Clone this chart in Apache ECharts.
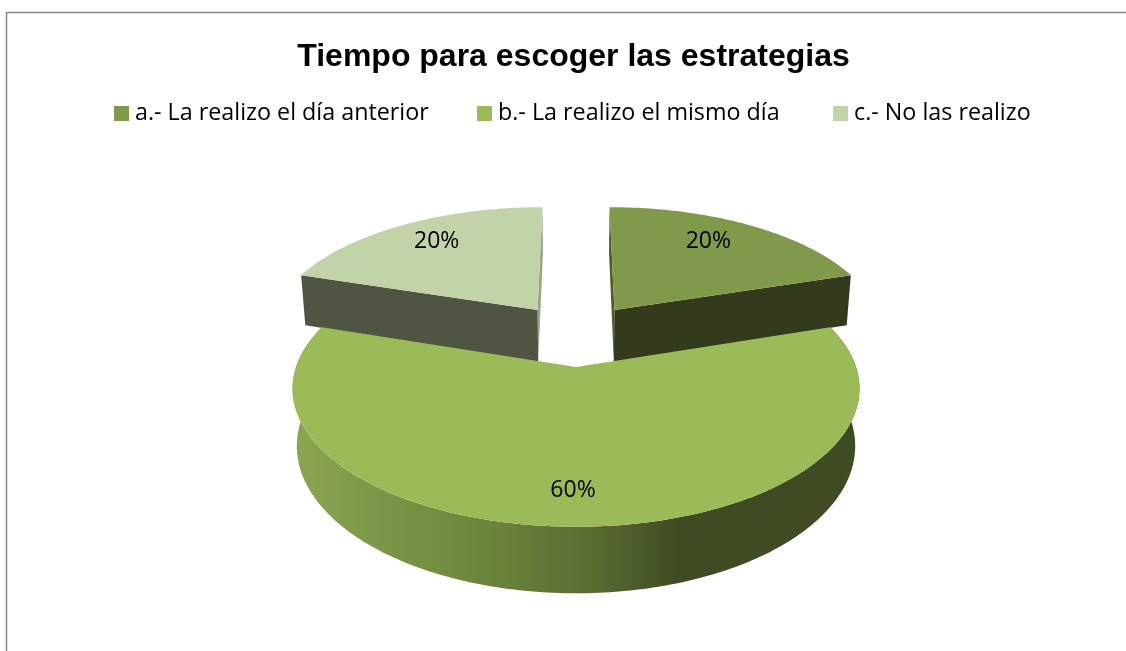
<!DOCTYPE html>
<html><head><meta charset="utf-8">
<style>html,body{margin:0;padding:0;background:#fff}#c{width:1126px;height:651px}</style>
<script src="https://cdn.jsdelivr.net/npm/echarts@6/dist/echarts.min.js"></script>
</head><body><div id="c"></div>
<script>
const titleText = 'Tiempo para escoger las estrategias';
const categories = ['a.- La realizo el día anterior', 'b.- La realizo el mismo día', 'c.- No las realizo'];
const percents = [20, 60, 20];
const topColors = ['#81994a', '#9bbb59', '#c3d3a9'];
const cutColors = ['#343b1d', '#343b1d', '#4f5443'];
const backCutColors = ['#4d5c2a', '#4d5c2a', '#98a586'];
const labelDx = [-14, -3, 7];
const labelDy = [0, 2, 0];
const legendLefts = [114, 477, 833];

const CX = 576, CY = 334.5, RX = 269.5, RY = 125, PERSP = 0.15, EXPLODE = 0.25, DEPTH = 54, DEPTH_SHRINK = 0.985, LABEL_T = 0.79;
const total = percents.reduce((a, b) => a + b, 0);
const starts = [];
percents.reduce((acc, v, i) => { starts[i] = acc; return acc + v; }, 0);

function proj(u, v, down) {
  const w = 1 - PERSP * v;
  let x = RX * u / w;
  let y = RY * v / w;
  if (down) { x *= DEPTH_SHRINK; y += DEPTH / w; }
  return [CX + x, CY + y];
}
function renderSlice(idx) {
  return function () {
    const a0 = starts[idx] / total * 2 * Math.PI;
    const a1 = (starts[idx] + percents[idx]) / total * 2 * Math.PI;
    const mid = (a0 + a1) / 2;
    const ou = EXPLODE * Math.sin(mid), ov = -EXPLODE * Math.cos(mid);
    const at = (ang, t, down) => proj(ou + t * Math.sin(ang), ov - t * Math.cos(ang), down);
    const steps = Math.ceil((a1 - a0) / (Math.PI / 180));
    const arcTop = [], arcBot = [];
    for (let i = 0; i <= steps; i++) {
      const ang = a0 + (a1 - a0) * i / steps;
      arcTop.push(at(ang, 1, false));
      arcBot.push(at(ang, 1, true));
    }
    const apex = at(0, 0, false), apexBot = at(0, 0, true);
    const children = [];
    if (percents[idx] / total > 0.5) {
      children.push({
        type: 'polygon',
        shape: { points: arcTop.concat(arcBot.slice().reverse()) },
        style: { fill: new echarts.graphic.LinearGradient(0, 0, 1, 0, [
          { offset: 0, color: '#8ba552' }, { offset: 0.12, color: '#7f9a49' },
          { offset: 0.35, color: '#6b843c' }, { offset: 0.52, color: '#5a6e32' },
          { offset: 0.68, color: '#3f4b22' }, { offset: 1, color: '#3f4b22' }
        ]) }
      });
    } else {
      const face = (ang, fill) => children.push({
        type: 'polygon',
        shape: { points: [apex, at(ang, 1, false), at(ang, 1, true), apexBot] },
        style: { fill: fill }
      });
      if (idx === 0) { face(a0, backCutColors[idx]); face(a1, cutColors[idx]); }
      else { face(a1, backCutColors[idx]); face(a0, cutColors[idx]); }
    }
    children.push({
      type: 'polygon',
      shape: { points: [apex].concat(arcTop) },
      style: { fill: topColors[idx] }
    });
    const lp = at(mid, LABEL_T, false);
    children.push({
      type: 'text',
      style: {
        x: lp[0] + labelDx[idx], y: lp[1] + labelDy[idx], text: percents[idx] + '%',
        fill: '#000', font: '23px "Open Sans"', align: 'center', verticalAlign: 'middle'
      }
    });
    return { type: 'group', children: children };
  };
}
const order = [0, 2, 1];
const chart = echarts.init(document.getElementById('c'), null, { renderer: 'canvas' });
chart.setOption({
  animation: false,
  backgroundColor: '#fff',
  title: {
    text: titleText, left: 568.5, top: 36, textAlign: 'center',
    textStyle: { fontFamily: '"Liberation Sans"', fontWeight: 'bold', fontSize: 32, color: '#000' }
  },
  legend: categories.map((name, i) => ({
    data: [name], left: legendLefts[i], top: 102, padding: 0, icon: 'rect', itemWidth: 15, itemHeight: 15,
    selectedMode: false,
    textStyle: { fontFamily: '"Open Sans"', fontSize: 23.3, color: '#000', padding: [0, 0, 0, 1] }
  })),
  graphic: [{
    type: 'rect', silent: true, z: -1,
    shape: { x: 6.5, y: 12.5, width: 1130, height: 650 },
    style: { fill: 'none', stroke: '#868686', lineWidth: 1.5 }
  }],
  series: order.map(i => ({
    type: 'custom', name: categories[i], coordinateSystem: 'none', z: i === 1 ? 3 : 2,
    itemStyle: { color: topColors[i] },
    renderItem: renderSlice(i), data: [[percents[i]]], silent: true
  }))
});
</script></body></html>
